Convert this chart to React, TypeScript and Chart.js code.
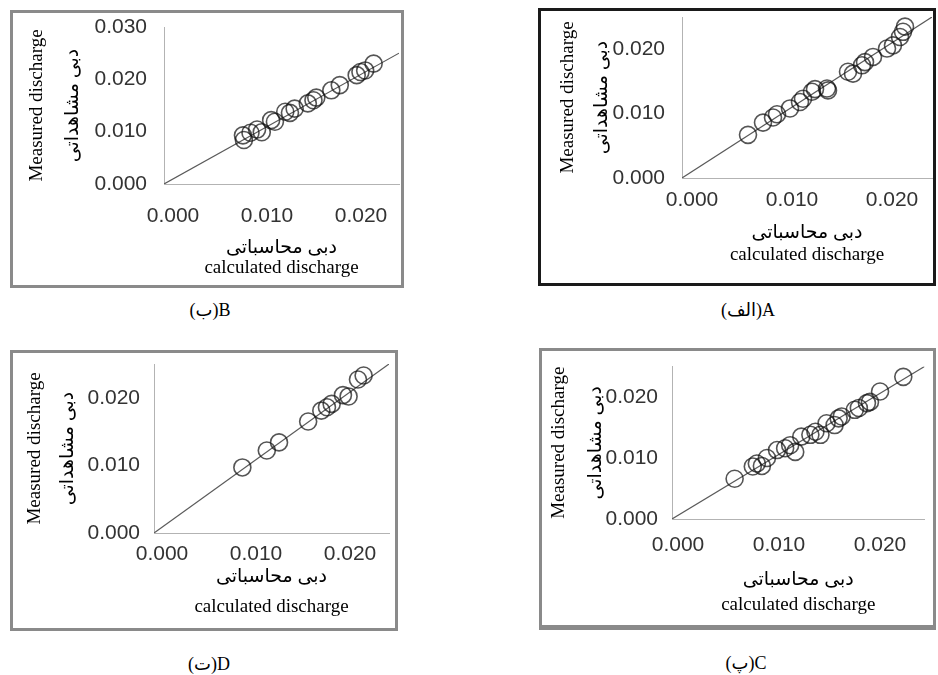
import React, { useEffect, useRef } from 'react';
import { Chart, registerables } from 'chart.js';

Chart.register(...registerables);

// ---------- data (calculated discharge = x, measured discharge = y) ----------
const aCalc = [0.0066, 0.0081, 0.0091, 0.0095, 0.0108, 0.0118, 0.0121, 0.0130, 0.0133, 0.0145, 0.0146, 0.0166, 0.0171, 0.0180, 0.0183, 0.0191, 0.0205, 0.0211, 0.0218, 0.0221, 0.0223];
const aMeas = [0.0067, 0.0086, 0.0094, 0.0099, 0.0108, 0.0118, 0.0123, 0.0134, 0.0138, 0.0139, 0.0136, 0.0165, 0.0162, 0.0175, 0.0180, 0.0188, 0.0201, 0.0206, 0.0219, 0.0227, 0.0235];

const bCalc = [0.0084, 0.0085, 0.0092, 0.0099, 0.0104, 0.0114, 0.0118, 0.0129, 0.0134, 0.0139, 0.0153, 0.0159, 0.0162, 0.0178, 0.0187, 0.0205, 0.0209, 0.0214, 0.0223];
const bMeas = [0.0093, 0.0084, 0.0098, 0.0104, 0.0099, 0.0122, 0.0119, 0.0138, 0.0136, 0.0144, 0.0154, 0.0160, 0.0165, 0.0179, 0.0189, 0.0208, 0.0214, 0.0217, 0.0230];

const cCalc = [0.0062, 0.0080, 0.0084, 0.0089, 0.0094, 0.0104, 0.0112, 0.0117, 0.0122, 0.0128, 0.0137, 0.0142, 0.0147, 0.0153, 0.0161, 0.0165, 0.0168, 0.0181, 0.0185, 0.0193, 0.0196, 0.0206, 0.0229];
const cMeas = [0.0066, 0.0086, 0.0091, 0.0087, 0.0100, 0.0113, 0.0116, 0.0121, 0.0110, 0.0135, 0.0138, 0.0143, 0.0138, 0.0157, 0.0154, 0.0165, 0.0168, 0.0179, 0.0182, 0.0190, 0.0192, 0.0209, 0.0233];

const dCalc = [0.0094, 0.0120, 0.0133, 0.0164, 0.0178, 0.0184, 0.0189, 0.0201, 0.0207, 0.0217, 0.0223];
const dMeas = [0.0097, 0.0122, 0.0134, 0.0165, 0.0181, 0.0186, 0.0191, 0.0204, 0.0202, 0.0227, 0.0233];

// 1:1 reference line end points
const lineEnds = [0, 0.025];

// tick values
const xTickValues = [0, 0.01, 0.02];
const yTickValuesB = [0, 0.01, 0.02, 0.03];
const yTickValues = [0, 0.01, 0.02];

// texts
const xTitle = ['دبی محاسباتی', 'calculated discharge'];
const yTitle = ['Measured discharge', 'دبی مشاهداتی'];
const captionA = '(الف)A';
const captionB = '(ب)B';
const captionC = '(پ)C';
const captionD = '(ت)D';

// ---------- styling / layout ----------
const tickFont = '"Liberation Sans", Arial, sans-serif';
const titleFont = '"Liberation Serif", "Times New Roman", "DejaVu Sans", serif';

type Cfg = {
  calc: number[]; meas: number[];
  yMax: number; yTicks: number[];
  frame: { left: number; top: number; width: number; height: number; color: string; bw: number; bwb: number };
  padTop: number; padRight: number; yAxisW: number; xAxisH: number;
  yTitleLH: number; yTitlePad: number; xTitleLH: number; xTitlePB: number;
  xTickPad: number; yTickPad: number; xLabelOffset: number;
};

const panels: Cfg[] = [
  {
    calc: bCalc, meas: bMeas, yMax: 0.03, yTicks: yTickValuesB,
    frame: { left: 10, top: 10, width: 394, height: 278, color: '#8a8a8a', bw: 3, bwb: 3 },
    padTop: 14, padRight: 2, yAxisW: 151, xAxisH: 101,
    yTitleLH: 36, yTitlePad: 6, xTitleLH: 20, xTitlePB: 7,
    xTickPad: 19.4, yTickPad: 17, xLabelOffset: 9,
  },
  {
    calc: aCalc, meas: aMeas, yMax: 0.025, yTicks: yTickValues,
    frame: { left: 538, top: 8, width: 398, height: 278, color: '#1a1a1a', bw: 3, bwb: 3 },
    padTop: 6, padRight: 1, yAxisW: 141, xAxisH: 105,
    yTitleLH: 34, yTitlePad: 10, xTitleLH: 22, xTitlePB: 17,
    xTickPad: 9.4, yTickPad: 17, xLabelOffset: 10,
  },
  {
    calc: dCalc, meas: dMeas, yMax: 0.025, yTicks: yTickValues,
    frame: { left: 10, top: 350, width: 388, height: 281, color: '#8a8a8a', bw: 3, bwb: 3 },
    padTop: 11, padRight: 6, yAxisW: 141, xAxisH: 95,
    yTitleLH: 33, yTitlePad: 5.5, xTitleLH: 30, xTitlePB: 6,
    xTickPad: 8.4, yTickPad: 14, xLabelOffset: 8,
  },
  {
    calc: cCalc, meas: cMeas, yMax: 0.025, yTicks: yTickValues,
    frame: { left: 539, top: 348, width: 397, height: 282, color: '#8a8a8a', bw: 3, bwb: 5 },
    padTop: 15.5, padRight: 8.5, yAxisW: 130, xAxisH: 106,
    yTitleLH: 37, yTitlePad: -1, xTitleLH: 25, xTitlePB: 7.5,
    xTickPad: 13.4, yTickPad: 14, xLabelOffset: 6,
  },
];

const captions = [
  { text: captionB, x: 210, y: 310 },
  { text: captionA, x: 748, y: 310 },
  { text: captionD, x: 209, y: 664 },
  { text: captionC, x: 746, y: 663 },
];

function Panel({ cfg }: { cfg: Cfg }) {
  const ref = useRef<HTMLCanvasElement>(null);
  const f = cfg.frame;
  const cw = f.width - 2 * f.bw;
  const ch = f.height - f.bw - f.bwb;

  useEffect(() => {
    if (!ref.current) return;
    const zeroPad = (s: any) => {
      s.paddingLeft = 0; s.paddingRight = 0; s.paddingTop = 0; s.paddingBottom = 0;
    };
    const chart = new Chart(ref.current, {
      type: 'scatter',
      data: {
        datasets: [
          {
            data: cfg.calc.map((x, i) => ({ x, y: cfg.meas[i] })),
            showLine: false,
            pointStyle: 'circle',
            pointRadius: 8.5,
            pointBorderWidth: 1.6,
            pointBorderColor: 'rgba(20,20,20,0.72)',
            pointBackgroundColor: 'rgba(0,0,0,0)',
          },
          {
            data: lineEnds.map((v) => ({ x: v, y: v })),
            showLine: true,
            borderColor: '#5a5a5a',
            borderWidth: 1.2,
            pointRadius: 0,
            fill: false,
          },
        ],
      },
      options: {
        responsive: false,
        animation: false,
        devicePixelRatio: 1,
        events: [],
        layout: { autoPadding: false, padding: { left: 0, top: cfg.padTop, right: cfg.padRight, bottom: 0 } },
        plugins: { legend: { display: false }, tooltip: { enabled: false }, title: { display: false } },
        scales: {
          x: {
            type: 'linear',
            min: 0,
            max: 0.025,
            afterBuildTicks: (s: any) => { s.ticks = xTickValues.map((v) => ({ value: v })); },
            afterFit: (s: any) => { s.height = cfg.xAxisH; zeroPad(s); },
            grid: { display: false, drawTicks: false },
            border: { display: true, color: '#b3b3b3', width: 1 },
            ticks: {
              autoSkip: false, maxRotation: 0, padding: cfg.xTickPad, labelOffset: cfg.xLabelOffset,
              color: '#333333', font: { family: tickFont, size: 21 },
              callback: (v: any) => Number(v).toFixed(3),
            },
            title: {
              display: true, text: xTitle, color: '#000',
              font: { family: titleFont, size: 19, lineHeight: cfg.xTitleLH + 'px' },
              padding: { top: 0, bottom: cfg.xTitlePB },
            },
          },
          y: {
            type: 'linear',
            min: 0,
            max: cfg.yMax,
            afterBuildTicks: (s: any) => { s.ticks = cfg.yTicks.map((v) => ({ value: v })); },
            afterFit: (s: any) => { s.width = cfg.yAxisW; zeroPad(s); },
            grid: { display: false, drawTicks: false },
            border: { display: true, color: '#b3b3b3', width: 1 },
            ticks: {
              autoSkip: false, padding: cfg.yTickPad,
              color: '#333333', font: { family: tickFont, size: 21 },
              callback: (v: any) => Number(v).toFixed(3),
            },
            title: {
              display: true, text: yTitle, color: '#000',
              font: { family: titleFont, size: 19, lineHeight: cfg.yTitleLH + 'px' },
              padding: { top: cfg.yTitlePad, bottom: 0 },
            },
          },
        },
      } as any,
    });
    return () => chart.destroy();
  }, []);

  return (
    <div
      style={{
        position: 'absolute', left: f.left, top: f.top, width: f.width, height: f.height,
        boxSizing: 'border-box', border: `${f.bw}px solid ${f.color}`, borderBottomWidth: f.bwb,
        background: '#fff',
      }}
    >
      <canvas ref={ref} width={cw} height={ch} style={{ position: 'absolute', left: 0, top: 0, width: cw, height: ch }} />
    </div>
  );
}

export default function App() {
  return (
    <div style={{ position: 'absolute', left: 0, top: 0, width: 938, height: 675, background: '#fff', overflow: 'hidden' }}>
      {panels.map((p, i) => <Panel key={i} cfg={p} />)}
      {captions.map((c, i) => (
        <div
          key={'c' + i}
          style={{
            position: 'absolute', left: c.x, top: c.y, transform: 'translate(-50%, -50%)',
            fontFamily: titleFont, fontSize: 18, lineHeight: 1, whiteSpace: 'nowrap', color: '#000',
          }}
        >
          {c.text}
        </div>
      ))}
    </div>
  );
}
